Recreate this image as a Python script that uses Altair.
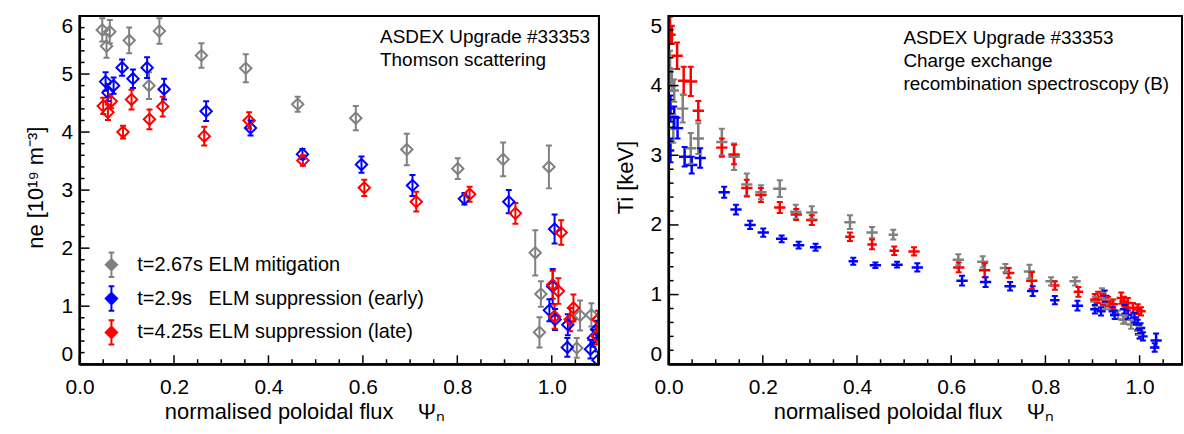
import altair as alt
import pandas as pd

FONT = "Liberation Sans"
GRAY, BLUE, RED = "#808080", "#0000ff", "#ff0000"
NB = "\u00a0"
series_names = ["t=2.67s ELM mitigation",
                "t=2.9s" + NB * 3 + "ELM suppression (early)",
                "t=4.25s ELM suppression (late)"]
series_colors = [GRAY, BLUE, RED]

ne_gray_x = [0.048, 0.057, 0.064, 0.105, 0.169, 0.147, 0.258, 0.352, 0.462, 0.585, 0.693, 0.801, 0.897, 0.994,
             0.965, 0.977, 0.974, 1.060, 1.084, 1.053]
ne_gray_y = [5.76, 5.48, 5.73, 5.58, 5.74, 4.80, 5.32, 5.10, 4.48, 4.24, 3.70, 3.37, 3.53, 3.40,
             1.92, 1.21, 0.55, 0.84, 0.85, 0.28]
ne_gray_e = [0.20, 0.20, 0.20, 0.22, 0.22, 0.23, 0.21, 0.24, 0.13, 0.21, 0.27, 0.18, 0.29, 0.37,
             0.39, 0.22, 0.26, 0.26, 0.20, 0.17]

ne_blue_x = [0.055, 0.060, 0.072, 0.090, 0.113, 0.143, 0.179, 0.268, 0.362, 0.472, 0.597, 0.705, 0.815, 0.909,
             1.006, 1.002, 0.995, 1.007, 1.034, 1.033, 1.082, 1.088, 1.095, 1.098]
ne_blue_y = [4.87, 4.68, 4.80, 5.11, 4.92, 5.11, 4.74, 4.36, 4.07, 3.62, 3.44, 3.08, 2.85, 2.80,
             2.33, 1.34, 0.93, 0.77, 0.68, 0.29, 0.26, 0.45, 0.60, 0.07]
ne_blue_e = [0.16, 0.15, 0.14, 0.14, 0.16, 0.18, 0.18, 0.17, 0.13, 0.09, 0.14, 0.18, 0.10, 0.20,
             0.25, 0.30, 0.19, 0.18, 0.18, 0.16, 0.16, 0.15, 0.15, 0.15]

ne_red_x = [0.050, 0.060, 0.067, 0.092, 0.110, 0.148, 0.176, 0.264, 0.359, 0.473, 0.603, 0.713, 0.826, 0.923,
            1.020, 1.002, 1.014, 1.006, 1.046, 1.039, 1.095, 1.098]
ne_red_y = [4.45, 4.34, 4.53, 4.00, 4.56, 4.22, 4.44, 3.93, 4.20, 3.51, 3.04, 2.80, 2.93, 2.60,
            2.27, 1.37, 1.26, 0.82, 0.97, 0.77, 0.49, 0.77]
ne_red_e = [0.14, 0.13, 0.12, 0.11, 0.17, 0.17, 0.17, 0.16, 0.14, 0.09, 0.14, 0.17, 0.13, 0.18,
            0.21, 0.24, 0.22, 0.21, 0.23, 0.20, 0.15, 0.15]

ti_gray_x = [0.003, 0.007, 0.012, 0.030, 0.010, 0.047, 0.063, 0.113, 0.139, 0.166, 0.196, 0.236, 0.270, 0.304,
             0.385, 0.432, 0.477, 0.615, 0.667, 0.715, 0.766, 0.812, 0.863, 0.905, 0.920, 0.926, 0.937,
             0.954, 0.965, 0.970, 0.982, 0.998, 1.000]
ti_gray_y = [4.25, 4.08, 3.93, 3.67, 3.38, 3.10, 3.24, 3.19, 2.98, 2.58, 2.47, 2.52, 2.19, 2.18,
             2.04, 1.89, 1.86, 1.50, 1.47, 1.38, 1.33, 1.19, 1.19, 0.90, 1.02, 0.86, 0.86,
             0.71, 0.64, 0.64, 0.57, 0.48, 0.43]
ti_gray_xe = [0.006, 0.008, 0.010, 0.012, 0.010, 0.012, 0.012, 0.012, 0.012, 0.012, 0.012, 0.014, 0.012, 0.012,
              0.012, 0.012, 0.010, 0.012, 0.012, 0.012, 0.012, 0.012, 0.012, 0.010, 0.010, 0.010, 0.010,
              0.010, 0.010, 0.010, 0.010, 0.010, 0.010]
ti_gray_ye = [0.25, 0.16, 0.16, 0.20, 0.20, 0.22, 0.22, 0.19, 0.19, 0.16, 0.10, 0.12, 0.10, 0.09,
              0.10, 0.08, 0.07, 0.08, 0.08, 0.06, 0.10, 0.06, 0.06, 0.07, 0.07, 0.07, 0.07,
              0.06, 0.06, 0.06, 0.06, 0.06, 0.06]

ti_blue_x = [0.004, 0.012, 0.019, 0.004, 0.034, 0.049, 0.067, 0.118, 0.143, 0.173, 0.201, 0.240, 0.276, 0.312,
             0.392, 0.439, 0.485, 0.528, 0.623, 0.673, 0.725, 0.773, 0.820, 0.868, 0.905, 0.918, 0.926,
             0.944, 0.947, 0.968, 0.975, 0.989, 0.996, 1.002, 1.000, 1.007, 1.035, 1.032]
ti_blue_y = [3.67, 3.55, 3.39, 3.07, 2.98, 2.86, 2.96, 2.47, 2.22, 2.00, 1.89, 1.80, 1.71, 1.68,
             1.48, 1.42, 1.43, 1.39, 1.20, 1.18, 1.12, 1.05, 0.92, 0.84, 0.79, 0.76, 0.98,
             0.76, 0.71, 0.79, 0.71, 0.67, 0.57, 0.52, 0.43, 0.40, 0.34, 0.24]
ti_blue_xe = [0.008, 0.010, 0.012, 0.008, 0.012, 0.012, 0.012, 0.012, 0.012, 0.012, 0.012, 0.012, 0.012, 0.012,
              0.010, 0.012, 0.012, 0.012, 0.012, 0.012, 0.012, 0.012, 0.010, 0.012, 0.010, 0.010, 0.010,
              0.010, 0.010, 0.010, 0.010, 0.010, 0.010, 0.010, 0.010, 0.010, 0.012, 0.010]
ti_blue_ye = [0.19, 0.15, 0.15, 0.17, 0.14, 0.12, 0.14, 0.08, 0.07, 0.06, 0.06, 0.05, 0.05, 0.05,
              0.05, 0.04, 0.04, 0.06, 0.07, 0.07, 0.06, 0.07, 0.06, 0.07, 0.06, 0.06, 0.08,
              0.06, 0.06, 0.06, 0.06, 0.07, 0.07, 0.07, 0.06, 0.06, 0.10, 0.06]

ti_red_x = [0.003, 0.007, 0.018, 0.032, 0.047, 0.063, 0.113, 0.139, 0.166, 0.196, 0.236, 0.271, 0.304,
            0.385, 0.432, 0.479, 0.521, 0.616, 0.671, 0.722, 0.771, 0.820, 0.870, 0.905, 0.912, 0.922,
            0.933, 0.944, 0.961, 0.967, 0.975, 0.986, 0.996, 1.003]
ti_red_y = [4.80, 4.73, 4.43, 4.07, 4.06, 3.64, 3.11, 3.01, 2.53, 2.43, 2.25, 2.15, 2.07,
            1.83, 1.72, 1.63, 1.62, 1.39, 1.35, 1.31, 1.20, 1.13, 1.04, 0.93, 0.96, 0.93,
            0.90, 0.86, 0.95, 0.90, 0.88, 0.81, 0.79, 0.76]
ti_red_xe = [0.006, 0.008, 0.012, 0.012, 0.014, 0.012, 0.012, 0.012, 0.012, 0.012, 0.012, 0.012, 0.012,
             0.010, 0.010, 0.010, 0.012, 0.012, 0.012, 0.012, 0.012, 0.010, 0.010, 0.010, 0.010, 0.010,
             0.010, 0.010, 0.010, 0.010, 0.010, 0.010, 0.010, 0.010]
ti_red_ye = [0.19, 0.13, 0.19, 0.20, 0.21, 0.14, 0.13, 0.14, 0.12, 0.10, 0.08, 0.08, 0.07,
             0.06, 0.07, 0.06, 0.06, 0.07, 0.10, 0.07, 0.12, 0.06, 0.07, 0.08, 0.08, 0.08,
             0.07, 0.07, 0.08, 0.07, 0.07, 0.07, 0.07, 0.06]

ne_y_major = [0, 1, 2, 3, 4, 5, 6]
ne_y_minor = [round(i * 0.2, 2) for i in range(31) if i % 5]
ti_y_major = [0, 1, 2, 3, 4, 5]
ti_y_minor = [round(i * 0.2, 2) for i in range(26) if i % 5]
x_major = [0.0, 0.2, 0.4, 0.6, 0.8, 1.0]
ne_x_minor = [round(i * 0.05, 2) for i in range(23) if i % 4]
ti_x_minor = [round(i * 0.05, 2) for i in range(22) if i % 4]

ne_note = ["ASDEX Upgrade #33353", "Thomson scattering"]
ti_note = ["ASDEX Upgrade #33353", "Charge exchange", "recombination spectroscopy (B)"]
ne_title = "ne [10¹⁹ m⁻³]"
ti_title = "Ti [keV]"
x_title = "normalised poloidal flux" + NB * 4 + "Ψₙ"

rows = []
for name, xs, ys, es in zip(series_names, [ne_gray_x, ne_blue_x, ne_red_x],
                            [ne_gray_y, ne_blue_y, ne_red_y], [ne_gray_e, ne_blue_e, ne_red_e]):
    for x, y, e in zip(xs, ys, es):
        rows.append({"s": name, "sc": name, "x": x, "y": y, "lo": y - e, "hi": y + e})
ne_df = pd.DataFrame(rows)

rows = []
for name, xs, ys, xe, ye in zip(series_names, [ti_gray_x, ti_blue_x, ti_red_x],
                                [ti_gray_y, ti_blue_y, ti_red_y],
                                [ti_gray_xe, ti_blue_xe, ti_red_xe],
                                [ti_gray_ye, ti_blue_ye, ti_red_ye]):
    for x, y, a, b in zip(xs, ys, xe, ye):
        rows.append({"s": name, "sc": name, "x": x, "y": y, "xl": x - a, "xh": x + a,
                     "lo": y - b, "hi": y + b})
ti_df = pd.DataFrame(rows)

cscale = alt.Scale(domain=series_names, range=series_colors)
kscale = alt.Scale(domain=["k"], range=["#000000"])
H = 350
W1, W2 = 522, 516

LEG_PATH = ("M-1,0L0,-1L1,0L0,1Z M0,-1L0,-2.15 M0,1L0,2.15 "
            "M-0.5,-2.15L0.5,-2.15 M-0.5,2.15L0.5,2.15")
legend = alt.Legend(orient="none", legendX=22, legendY=240, title=None, padding=0,
                    labelFontSize=20, labelFont=FONT, labelColor="black", labelLimit=0,
                    symbolType=LEG_PATH, symbolSize=130, symbolStrokeWidth=2,
                    symbolFillColor="transparent", labelOffset=16, rowPadding=0)


def mk_axes(ydom_vals, ytitle, ytx, yty, xtx):
    yax = alt.Axis(title=ytitle, values=ydom_vals, format="d", ticks=False,
                   domain=True, domainColor="black", domainWidth=2, grid=False,
                   labelFlush=True, labelPadding=7, labelFontSize=21, labelFont=FONT, labelColor="black",
                   titleFontSize=22, titleFont=FONT, titleColor="black", titleFontWeight="normal",
                   titleX=ytx, titleY=yty, titleAngle=270, titleAlign="center", titleBaseline="middle")
    xax = alt.Axis(title=x_title, values=x_major, format=".1f", ticks=False,
                   domain=True, domainColor="black", domainWidth=2, grid=False,
                   labelFlush=False, labelPadding=12, labelFontSize=21, labelFont=FONT, labelColor="black",
                   titleFontSize=22, titleFont=FONT, titleColor="black", titleFontWeight="normal",
                   titleX=xtx, titleY=55, titleAlign="center", titleBaseline="alphabetic")
    return xax, yax


def deco_layers(xsc, ysc, xax, yax, ymaj, ymin, xmaj, xmin, width):
    out = []
    kcol = alt.Color("k:N", scale=kscale, legend=None)
    for vals, size in [(ymaj, 10), (ymin, 5)]:
        d = alt.Data(values=[{"ty": float(v), "k": "k"} for v in vals])
        out.append(alt.Chart(d).mark_rule(strokeWidth=1.5, opacity=1).encode(
            y=alt.Y("ty:Q", scale=ysc, axis=yax), x=alt.value(0), x2=alt.value(size), color=kcol))
    for vals, size in [(xmaj, 9), (xmin, 5)]:
        d = alt.Data(values=[{"tx": float(v), "k": "k"} for v in vals])
        out.append(alt.Chart(d).mark_rule(strokeWidth=1.5, opacity=1).encode(
            x=alt.X("tx:Q", scale=xsc, axis=xax), y=alt.value(H - size), y2=alt.value(H), color=kcol))
    out.append(alt.Chart(pd.DataFrame({"k": ["k"]})).mark_rect(
        filled=False, strokeWidth=2, fillOpacity=0).encode(
        x=alt.value(0), x2=alt.value(width), y=alt.value(0), y2=alt.value(H), color=kcol))
    return out


xs1 = alt.Scale(domain=[0, 1.1], nice=False, zero=False)
ys1 = alt.Scale(domain=[0, 6], nice=False, zero=False)
xax1, yax1 = mk_axes(ne_y_major, ne_title, -44, 172, 226)
col1 = alt.Stroke("s:N", scale=cscale, legend=legend, sort=series_names)
fill1 = alt.Fill("sc:N", scale=cscale, legend=None, sort=series_names)
b1 = alt.Chart(ne_df)
X1 = alt.X("x:Q", scale=xs1, axis=xax1)
l_pts = b1.mark_point(shape="diamond", filled=False, size=130, strokeWidth=2, opacity=1, clip=True).encode(
    x=X1, y=alt.Y("y:Q", scale=ys1, axis=yax1), stroke=col1)
l_err = b1.mark_rule(strokeWidth=2, clip=True).encode(
    x=X1, y=alt.Y("lo:Q", scale=ys1, axis=yax1), y2="hi:Q", stroke=col1)
l_caplo = b1.mark_tick(orient="horizontal", size=6, thickness=2, opacity=1, clip=True).encode(
    x=X1, y=alt.Y("lo:Q", scale=ys1, axis=yax1), fill=fill1)
l_caphi = b1.mark_tick(orient="horizontal", size=6, thickness=2, opacity=1, clip=True).encode(
    x=X1, y=alt.Y("hi:Q", scale=ys1, axis=yax1), fill=fill1)
l_note = alt.Chart(alt.Data(values=[{}])).mark_text(
    align="left", baseline="alphabetic", fontSize=19, font=FONT, lineHeight=23.3, color="black").encode(
    x=alt.value(302), y=alt.value(27), text=alt.value(ne_note))
left = alt.layer(l_err, l_caplo, l_caphi, l_pts, l_note,
                 *deco_layers(xs1, ys1, xax1, yax1, ne_y_major, ne_y_minor, x_major, ne_x_minor, W1)
                 ).properties(width=W1, height=H)

xs2 = alt.Scale(domain=[0, 1.09], nice=False, zero=False)
ys2 = alt.Scale(domain=[0, 5], nice=False, zero=False)
xax2, yax2 = mk_axes(ti_y_major, ti_title, -43, 162, 246)
col2 = alt.Stroke("s:N", scale=cscale, legend=None, sort=series_names)
fill2 = alt.Fill("sc:N", scale=cscale, legend=None, sort=series_names)
b2 = alt.Chart(ti_df)
X2 = alt.X("x:Q", scale=xs2, axis=xax2)
r_verr = b2.mark_rule(strokeWidth=2.5, clip=True).encode(
    x=X2, y=alt.Y("lo:Q", scale=ys2, axis=yax2), y2="hi:Q", stroke=col2)
r_herr = b2.mark_rule(strokeWidth=2.5, clip=True).encode(
    x=alt.X("xl:Q", scale=xs2, axis=xax2), x2="xh:Q", y=alt.Y("y:Q", scale=ys2, axis=yax2), stroke=col2)
r_caplo = b2.mark_tick(orient="horizontal", size=6, thickness=2, opacity=1, clip=True).encode(
    x=X2, y=alt.Y("lo:Q", scale=ys2, axis=yax2), fill=fill2)
r_caphi = b2.mark_tick(orient="horizontal", size=6, thickness=2, opacity=1, clip=True).encode(
    x=X2, y=alt.Y("hi:Q", scale=ys2, axis=yax2), fill=fill2)
r_note = alt.Chart(alt.Data(values=[{}])).mark_text(
    align="left", baseline="alphabetic", fontSize=19, font=FONT, lineHeight=23.3, color="black").encode(
    x=alt.value(236), y=alt.value(27.7), text=alt.value(ti_note))
right = alt.layer(r_verr, r_herr, r_caplo, r_caphi, r_note,
                  *deco_layers(xs2, ys2, xax2, yax2, ti_y_major, ti_y_minor, x_major, ti_x_minor, W2)
                  ).properties(width=W2, height=H)

chart = alt.hconcat(left, right, spacing=13).resolve_scale(
    stroke="independent", fill="independent", color="independent").properties(
    padding={"left": 24, "top": 13, "right": 0, "bottom": 0}
).configure_view(stroke="black", strokeWidth=2)

chart.save("out.html", embed_options={"renderer": "svg", "actions": False})
